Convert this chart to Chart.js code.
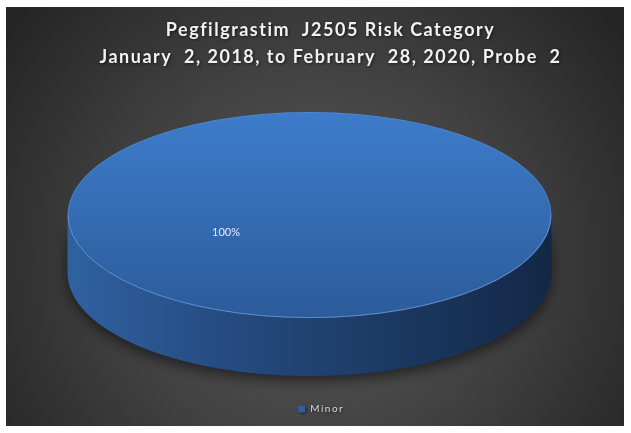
<!DOCTYPE html>
<html><head><meta charset="utf-8">
<script src="https://cdn.jsdelivr.net/npm/chart.js@4"></script>
<style>
html,body{margin:0;padding:0;background:#fff;width:631px;height:433px;overflow:hidden}
#wrap{position:absolute;left:6px;top:7px;width:618px;height:419px}
</style></head><body>
<div id="wrap"><canvas id="c"></canvas></div>
<script>
// ---- data ----
const titleLines = ['Pegfilgrastim  J2505 Risk Category', 'January  2, 2018, to February  28, 2020, Probe  2'];
const categories = ['Minor'];
const values = [100];
const topColorsStart = ['#3d7cca'];
const topColorsEnd = ['#2c5b9a'];
const sideColors = ['#2f61a1', '#254b80', '#1c3963', '#132846'];

// ---- 3D look and layout tweaks (styles) ----
const RADIUS = 242;
const TILT = 0.426;
const DEPTH = 58;
const LABEL_DX = -0.345, LABEL_DY = 0.17;
const TITLE_SHIFT_X = 21;
const LEGEND_SHIFT_X = 8;

const pie3d = {
  id: 'pie3d',
  afterLayout(chart) {
    const t = chart.titleBlock;
    if (t) { t.left += TITLE_SHIFT_X; t.right += TITLE_SHIFT_X; }
    const l = chart.legend;
    if (l) { l.left += LEGEND_SHIFT_X; l.right += LEGEND_SHIFT_X; }
  },
  beforeDraw(chart) {
    const {ctx, width, height} = chart;
    ctx.save();
    const cx = width / 2, cy = height * 0.6;
    const g = ctx.createRadialGradient(cx, cy, 0, cx, cy, Math.max(width, height) * 0.62);
    g.addColorStop(0, '#5b5b5b');
    g.addColorStop(0.55, '#3f3f3f');
    g.addColorStop(1, '#252525');
    ctx.fillStyle = g;
    ctx.fillRect(0, 0, width, height);
    ctx.restore();
    ctx.shadowColor = 'rgba(0,0,0,0.6)';
    ctx.shadowBlur = 3;
    ctx.shadowOffsetX = 1;
    ctx.shadowOffsetY = 1;
    ctx.letterSpacing = '1.5px';
  },
  beforeDatasetsDraw(chart) {
    const ctx = chart.ctx;
    ctx.letterSpacing = '0px';
    ctx.shadowColor = 'rgba(0,0,0,0)';
    ctx.shadowBlur = 0; ctx.shadowOffsetX = 0; ctx.shadowOffsetY = 0;
    const arc = chart.getDatasetMeta(0).data[0];
    const x = arc.x, y = arc.y, r = arc.outerRadius, ry = r * TILT;
    ctx.save();
    ctx.beginPath();
    ctx.ellipse(x, y + DEPTH, r, ry, 0, 0, Math.PI);
    ctx.lineTo(x - r, y);
    ctx.ellipse(x, y, r, ry, 0, Math.PI, 0, true);
    ctx.closePath();
    const sg = ctx.createLinearGradient(x - r, 0, x + r, 0);
    sideColors.forEach((c, i) => sg.addColorStop(i / (sideColors.length - 1), c));
    ctx.shadowColor = 'rgba(0,0,0,0.55)';
    ctx.shadowBlur = 14;
    ctx.shadowOffsetY = 5;
    ctx.fillStyle = sg;
    ctx.fill();
    ctx.restore();
    ctx.save();
    ctx.translate(x, y);
    ctx.scale(1, TILT);
    ctx.translate(-x, -y);
  },
  afterDatasetsDraw(chart) {
    const ctx = chart.ctx;
    ctx.restore();
    const arc = chart.getDatasetMeta(0).data[0];
    const x = arc.x, y = arc.y, r = arc.outerRadius, ry = r * TILT;
    ctx.save();
    ctx.beginPath();
    ctx.ellipse(x, y, r - 0.5, ry - 0.5, 0, 0, Math.PI);
    ctx.strokeStyle = 'rgba(125,175,240,0.6)';
    ctx.lineWidth = 1;
    ctx.stroke();
    ctx.beginPath();
    ctx.ellipse(x, y, r - 0.5, ry - 0.5, 0, Math.PI, Math.PI * 2);
    ctx.strokeStyle = 'rgba(110,160,225,0.3)';
    ctx.stroke();
    const total = values.reduce((a, b) => a + b, 0);
    const txt = Math.round(values[0] / total * 100) + '%';
    ctx.font = '11px Lato';
    ctx.fillStyle = '#e4ebf6';
    ctx.textAlign = 'center';
    ctx.textBaseline = 'middle';
    ctx.fillText(txt, x + r * LABEL_DX, y + ry * LABEL_DY);
    ctx.restore();
  }
};

new Chart(document.getElementById('c'), {
  type: 'pie',
  data: {
    labels: categories,
    datasets: [{
      data: values,
      radius: RADIUS,
      clip: false,
      borderWidth: 0,
      backgroundColor: (c) => {
        const ca = c.chart.chartArea;
        if (!ca) return topColorsStart[c.dataIndex];
        const cy = (ca.top + ca.bottom) / 2;
        const g = c.chart.ctx.createLinearGradient(0, cy - RADIUS, 0, cy + RADIUS);
        g.addColorStop(0, topColorsStart[c.dataIndex]);
        g.addColorStop(1, topColorsEnd[c.dataIndex]);
        return g;
      }
    }]
  },
  options: {
    responsive: true,
    maintainAspectRatio: false,
    animation: false,
    events: [],
    layout: {padding: {bottom: 2, right: 11}},
    plugins: {
      title: {
        display: true,
        text: titleLines,
        color: '#f2f2f2',
        font: {family: 'Lato', size: 18, weight: 'bold', lineHeight: 1.5},
        padding: {top: 10, bottom: 10}
      },
      legend: {
        position: 'bottom',
        labels: {
          color: '#d9d9d9',
          font: {family: 'Lato', size: 10},
          usePointStyle: true,
          pointStyle: 'rect',
          boxWidth: 7,
          boxHeight: 7,
          padding: 55
        }
      },
      tooltip: {enabled: false}
    }
  },
  plugins: [pie3d]
});
</script>
</body></html>
